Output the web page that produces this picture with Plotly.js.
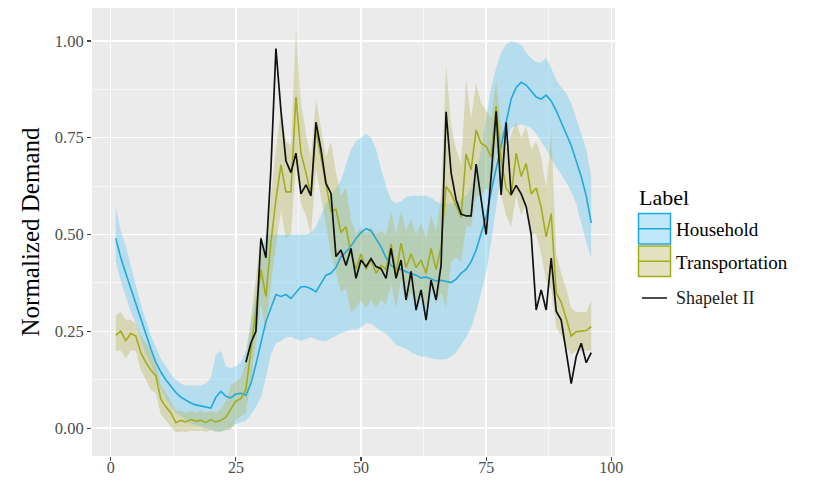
<!DOCTYPE html>
<html><head><meta charset="utf-8">
<script src="https://cdn.plot.ly/plotly-3.0.1.min.js"></script>
<style>html,body{margin:0;padding:0;background:#fff}</style>
</head><body><div id="chart" style="width:813px;height:482px"></div>
<script>
const timeIdx = [1,2,3,4,5,6,7,8,9,10,11,12,13,14,15,16,17,18,19,20,21,22,23,24,25,26,27,28,29,30,31,32,33,34,35,36,37,38,39,40,41,42,43,44,45,46,47,48,49,50,51,52,53,54,55,56,57,58,59,60,61,62,63,64,65,66,67,68,69,70,71,72,73,74,75,76,77,78,79,80,81,82,83,84,85,86,87,88,89,90,91,92,93,94,95,96];

const householdMean = [0.49,0.44,0.40,0.36,0.32,0.28,0.24,0.205,0.17,0.145,0.125,0.107,0.092,0.08,0.072,0.065,0.06,0.057,0.055,0.052,0.08,0.095,0.082,0.078,0.088,0.09,0.085,0.115,0.165,0.22,0.275,0.31,0.345,0.34,0.345,0.335,0.35,0.365,0.365,0.36,0.352,0.375,0.395,0.40,0.415,0.443,0.455,0.47,0.49,0.505,0.515,0.51,0.49,0.468,0.44,0.42,0.412,0.41,0.404,0.40,0.395,0.388,0.39,0.385,0.38,0.382,0.378,0.376,0.385,0.40,0.41,0.43,0.46,0.50,0.545,0.61,0.67,0.73,0.79,0.85,0.88,0.893,0.886,0.87,0.855,0.85,0.86,0.845,0.82,0.79,0.76,0.73,0.69,0.65,0.60,0.53];
const householdUpper = [0.57,0.51,0.47,0.42,0.37,0.32,0.28,0.24,0.21,0.18,0.16,0.14,0.125,0.115,0.11,0.11,0.11,0.11,0.115,0.13,0.19,0.2,0.16,0.155,0.16,0.17,0.2,0.27,0.35,0.44,0.5,0.5,0.5,0.5,0.5,0.5,0.5,0.5,0.5,0.505,0.52,0.55,0.58,0.6,0.62,0.64,0.68,0.72,0.74,0.75,0.76,0.75,0.72,0.67,0.625,0.59,0.58,0.585,0.597,0.6,0.6,0.6,0.6,0.595,0.585,0.58,0.58,0.58,0.58,0.59,0.6,0.62,0.66,0.72,0.8,0.88,0.93,0.97,0.99,1.0,0.995,0.99,0.97,0.955,0.945,0.945,0.955,0.93,0.9,0.88,0.865,0.84,0.8,0.76,0.72,0.65];
const householdLower = [0.43,0.38,0.34,0.30,0.27,0.23,0.19,0.165,0.13,0.1,0.075,0.055,0.04,0.03,0.02,0.012,0.008,0.003,0.0,-0.005,-0.008,-0.01,-0.005,0.0,0.01,0.015,0.02,0.035,0.055,0.08,0.13,0.19,0.22,0.225,0.235,0.236,0.23,0.225,0.23,0.235,0.23,0.225,0.225,0.232,0.24,0.245,0.25,0.255,0.255,0.26,0.27,0.27,0.26,0.25,0.245,0.23,0.215,0.21,0.205,0.195,0.19,0.185,0.185,0.18,0.178,0.177,0.178,0.185,0.195,0.215,0.235,0.26,0.3,0.35,0.4,0.48,0.57,0.66,0.73,0.775,0.78,0.785,0.78,0.775,0.76,0.74,0.72,0.695,0.675,0.655,0.635,0.61,0.58,0.53,0.48,0.44];

const transportMean = [0.24,0.25,0.226,0.245,0.238,0.195,0.17,0.15,0.135,0.075,0.055,0.04,0.014,0.02,0.016,0.022,0.018,0.02,0.014,0.022,0.016,0.02,0.028,0.05,0.07,0.076,0.1,0.2,0.3,0.41,0.34,0.48,0.59,0.68,0.61,0.61,0.855,0.71,0.66,0.6,0.77,0.7,0.62,0.56,0.565,0.505,0.52,0.45,0.41,0.45,0.41,0.435,0.40,0.42,0.41,0.475,0.40,0.478,0.415,0.45,0.415,0.434,0.40,0.464,0.41,0.468,0.624,0.606,0.575,0.545,0.708,0.667,0.77,0.735,0.728,0.70,0.832,0.69,0.62,0.60,0.71,0.65,0.684,0.605,0.62,0.57,0.494,0.554,0.35,0.325,0.283,0.238,0.249,0.25,0.252,0.262];
const transportUpper = [0.29,0.3,0.28,0.28,0.27,0.24,0.22,0.2,0.17,0.11,0.09,0.07,0.045,0.045,0.04,0.045,0.04,0.045,0.04,0.045,0.04,0.05,0.07,0.11,0.12,0.13,0.17,0.28,0.38,0.5,0.44,0.6,0.72,0.82,0.74,0.73,1.03,0.84,0.76,0.7,0.85,0.77,0.7,0.74,0.66,0.6,0.62,0.54,0.5,0.52,0.5,0.52,0.5,0.51,0.5,0.56,0.5,0.56,0.51,0.54,0.5,0.53,0.49,0.55,0.51,0.6,0.94,0.78,0.72,0.68,0.9,0.8,0.89,0.84,0.82,0.8,0.9,0.78,0.72,0.76,0.79,0.75,0.78,0.72,0.74,0.7,0.62,0.77,0.45,0.4,0.36,0.31,0.3,0.3,0.3,0.33];
const transportLower = [0.2,0.2,0.18,0.2,0.2,0.15,0.125,0.1,0.09,0.035,0.02,0.005,-0.012,-0.008,-0.01,-0.006,-0.008,-0.006,-0.01,-0.005,-0.01,-0.008,-0.005,-0.005,0.02,0.03,0.04,0.12,0.22,0.32,0.25,0.37,0.47,0.56,0.49,0.5,0.68,0.58,0.55,0.5,0.67,0.6,0.52,0.45,0.4,0.35,0.36,0.3,0.31,0.33,0.31,0.33,0.31,0.33,0.32,0.37,0.31,0.38,0.32,0.35,0.32,0.34,0.31,0.37,0.32,0.35,0.31,0.43,0.44,0.43,0.52,0.52,0.6,0.6,0.62,0.6,0.73,0.6,0.55,0.52,0.6,0.55,0.58,0.5,0.5,0.45,0.38,0.36,0.26,0.24,0.21,0.19,0.2,0.2,0.2,0.2];

const shapeletIdx = [27,28,29,30,31,32,33,34,35,36,37,38,39,40,41,42,43,44,45,46,47,48,49,50,51,52,53,54,55,56,57,58,59,60,61,62,63,64,65,66,67,68,69,70,71,72,73,74,75,76,77,78,79,80,81,82,83,84,85,86,87,88,89,90,91,92,93,94,95,96];
const shapeletVals = [0.17,0.22,0.25,0.49,0.44,0.67,0.98,0.82,0.69,0.66,0.71,0.605,0.628,0.60,0.79,0.72,0.632,0.606,0.443,0.46,0.42,0.464,0.387,0.434,0.417,0.438,0.417,0.412,0.387,0.464,0.387,0.434,0.331,0.405,0.305,0.357,0.279,0.382,0.331,0.42,0.817,0.66,0.59,0.553,0.548,0.548,0.682,0.59,0.5,0.65,0.818,0.602,0.79,0.603,0.627,0.605,0.572,0.5,0.305,0.357,0.305,0.439,0.302,0.279,0.2,0.115,0.185,0.219,0.169,0.195];

const xTicks = [0,25,50,75,100];
const xTickText = ['0','25','50','75','100'];
const yTicks = [0,0.25,0.5,0.75,1];
const yTickText = ['0.00','0.25','0.50','0.75','1.00'];
const legendTitle = 'Label';
const seriesNames = ['Household','Transportation','Shapelet II'];

const hhLine = '#1FA9DC', hhFill = 'rgba(120,205,240,0.46)';
const trLine = '#A3AD1C', trFill = 'rgba(185,185,100,0.40)';
const serif = 'Liberation Serif, Times New Roman, serif';

const traces = [
  {x: timeIdx, y: householdLower, mode: 'lines', line: {width: 0, color: hhFill}, showlegend: false, hoverinfo: 'skip'},
  {x: timeIdx, y: householdUpper, mode: 'lines', line: {width: 0, color: hhFill}, fill: 'tonexty', fillcolor: hhFill, showlegend: false, hoverinfo: 'skip'},
  {x: timeIdx, y: transportLower, mode: 'lines', line: {width: 0, color: trFill}, showlegend: false, hoverinfo: 'skip'},
  {x: timeIdx, y: transportUpper, mode: 'lines', line: {width: 0, color: trFill}, fill: 'tonexty', fillcolor: trFill, showlegend: false, hoverinfo: 'skip'},
  {x: timeIdx, y: householdMean, mode: 'lines', name: seriesNames[0], line: {color: hhLine, width: 1.6}, showlegend: false},
  {x: timeIdx, y: transportMean, mode: 'lines', name: seriesNames[1], line: {color: trLine, width: 1.6}, showlegend: false},
  {x: shapeletIdx, y: shapeletVals, mode: 'lines', name: seriesNames[2], line: {color: '#111', width: 1.7}, showlegend: false}
];

// legend drawn in pixel space of the figure
const L = 92, R = 615, T = 8, B = 456;
const px = p => (p - L) / (R - L);
const py = p => (B - p) / (B - T);

const shapes = [
  {type:'rect', xref:'paper', yref:'paper', x0:px(638.5), x1:px(670.5), y0:py(213.5), y1:py(244), fillcolor: hhFill, line:{color: hhLine, width: 1.5}},
  {type:'line', xref:'paper', yref:'paper', x0:px(638.5), x1:px(670.5), y0:py(228.7), y1:py(228.7), line:{color: hhLine, width: 1.6}},
  {type:'rect', xref:'paper', yref:'paper', x0:px(638.5), x1:px(670.5), y0:py(246), y1:py(276.5), fillcolor: trFill, line:{color: trLine, width: 1.5}},
  {type:'line', xref:'paper', yref:'paper', x0:px(638.5), x1:px(670.5), y0:py(261.3), y1:py(261.3), line:{color: trLine, width: 1.6}},
  {type:'line', xref:'paper', yref:'paper', x0:px(642), x1:px(667), y0:py(298), y1:py(298), line:{color: '#111', width: 1.5}}
];

const annotations = [
  {xref:'paper', yref:'paper', x:px(637), y:py(197), xanchor:'left', yanchor:'middle', showarrow:false, text: legendTitle, font:{family: serif, size: 22, color:'#000'}},
  {xref:'paper', yref:'paper', x:px(674), y:py(229), xanchor:'left', yanchor:'middle', showarrow:false, text: seriesNames[0], font:{family: serif, size: 19, color:'#000'}},
  {xref:'paper', yref:'paper', x:px(674), y:py(262), xanchor:'left', yanchor:'middle', showarrow:false, text: seriesNames[1], font:{family: serif, size: 19, color:'#000'}},
  {xref:'paper', yref:'paper', x:px(674), y:py(298), xanchor:'left', yanchor:'middle', showarrow:false, text: seriesNames[2], font:{family: serif, size: 18, color:'#222'}}
];

const layout = {
  width: 813, height: 482,
  margin: {l: L, r: 813 - R, t: T, b: 482 - B, pad: 0},
  paper_bgcolor: '#fff', plot_bgcolor: '#EBEBEB',
  showlegend: false,
  xaxis: {
    range: [-3.75, 100.75], tickvals: xTicks, ticktext: xTickText,
    showgrid: true, gridcolor: '#fff', gridwidth: 1.4, zeroline: false, showline: false,
    ticks: 'outside', ticklen: 4, tickwidth: 1.2, tickcolor: '#444',
    ticklabelstandoff: -7,
    tickfont: {family: serif, size: 16, color: '#4D4D4D'},
    minor: {dtick: 12.5, tick0: 12.5, showgrid: true, gridcolor: '#fff', gridwidth: 0.6, ticks: ''},
    fixedrange: true
  },
  yaxis: {
    range: [-0.072, 1.085], tickvals: yTicks, ticktext: yTickText,
    showgrid: true, gridcolor: '#fff', gridwidth: 1.4, zeroline: false, showline: false,
    ticks: 'outside', ticklen: 4, tickwidth: 1.2, tickcolor: '#444',
    tickfont: {family: serif, size: 16.5, color: '#4D4D4D'},
    minor: {dtick: 0.125, tick0: 0.125, showgrid: true, gridcolor: '#fff', gridwidth: 0.6, ticks: ''},
    title: {text: 'Normalized Demand', font: {family: serif, size: 25, color: '#000'}, standoff: 8},
    automargin: false,
    fixedrange: true
  },
  shapes: shapes,
  annotations: annotations
};

Plotly.newPlot('chart', traces, layout, {displayModeBar: false, staticPlot: true});
</script>
</body></html>
